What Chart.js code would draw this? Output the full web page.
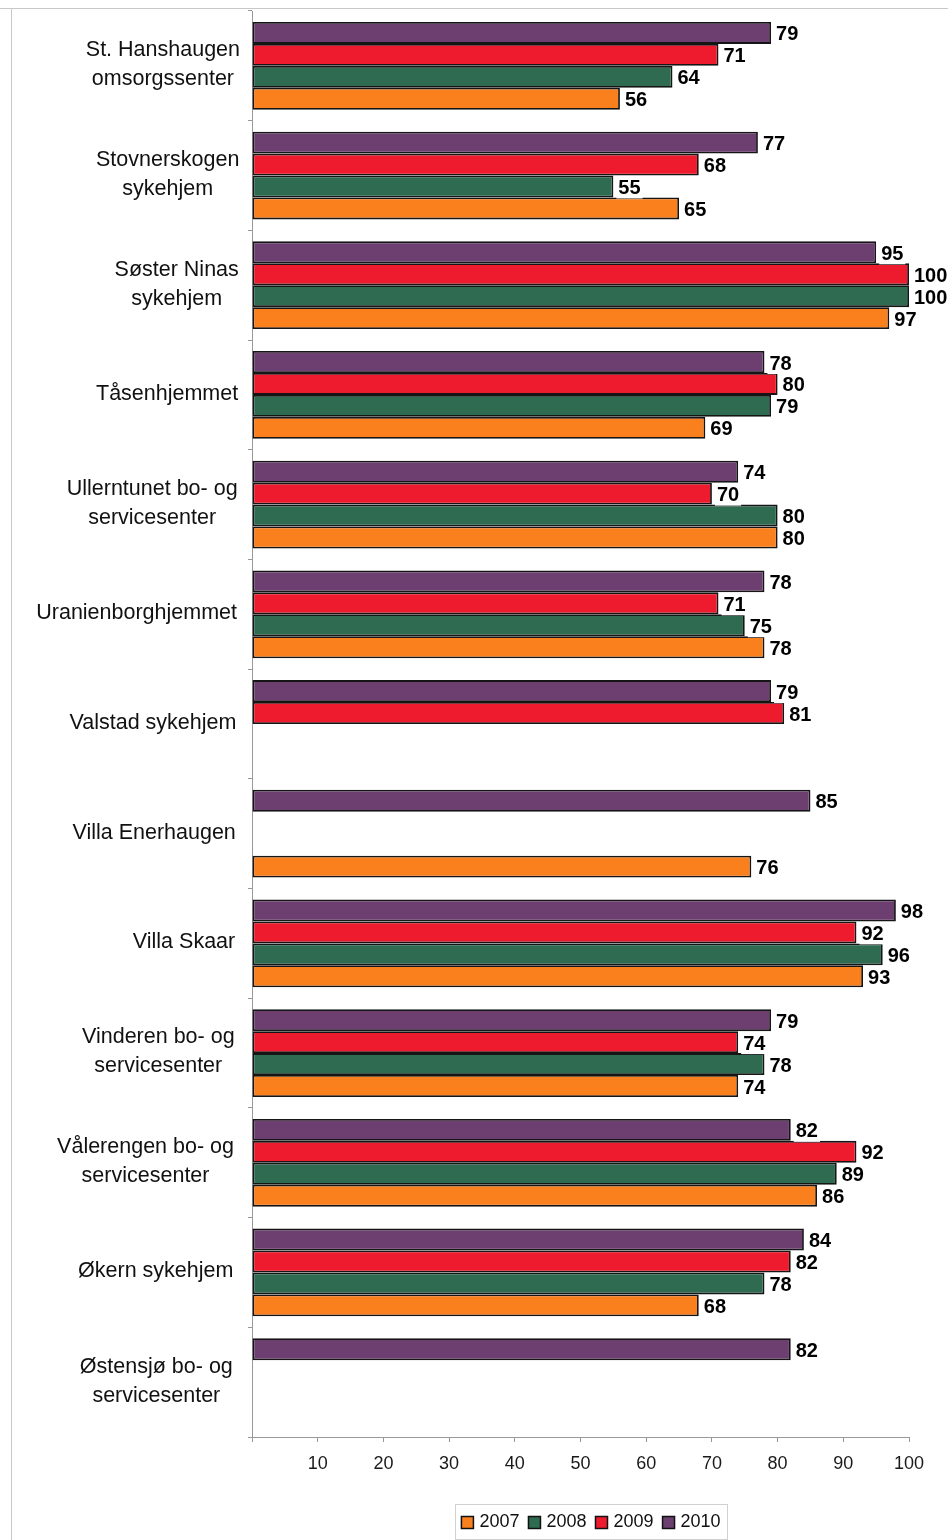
<!DOCTYPE html>
<html>
<head>
<meta charset="utf-8">
<script src="https://cdn.jsdelivr.net/npm/chart.js@4.4.1/dist/chart.umd.min.js"></script>
<style>
  html, body { margin: 0; padding: 0; background: #fff; }
  #wrap { position: relative; width: 948px; height: 1540px; }
</style>
</head>
<body>
<div id="wrap"><canvas id="c" width="948" height="1540"></canvas></div>
<script>
const categories = [
  ["St. Hanshaugen", "omsorgssenter"],
  ["Stovnerskogen", "sykehjem"],
  ["Søster Ninas", "sykehjem"],
  ["Tåsenhjemmet"],
  ["Ullerntunet bo- og", "servicesenter"],
  ["Uranienborghjemmet"],
  ["Valstad sykehjem"],
  ["Villa Enerhaugen"],
  ["Villa Skaar"],
  ["Vinderen bo- og", "servicesenter"],
  ["Vålerengen bo- og", "servicesenter"],
  ["Økern sykehjem"],
  ["Østensjø bo- og", "servicesenter"]
];
const values2010 = [79, 77, 95, 78, 74, 78, 79, 85, 98, 79, 82, 84, 82];
const values2009 = [71, 68, 100, 80, 70, 71, 81, null, 92, 74, 92, 82, null];
const values2008 = [64, 55, 100, 79, 80, 75, null, null, 96, 78, 89, 78, null];
const values2007 = [56, 65, 97, 69, 80, 78, null, 76, 93, 74, 86, 68, null];
const xTicks = [10, 20, 30, 40, 50, 60, 70, 80, 90, 100];
const legendOrder = ["2007", "2008", "2009", "2010"];

const colors = { "2007": "#fa801e", "2008": "#2e6b50", "2009": "#ee1b2e", "2010": "#6c3f70" };
const FONT = '"Liberation Sans", Arial, sans-serif';

const frame = {
  id: 'frame',
  beforeDraw(chart) {
    const ctx = chart.ctx;
    ctx.save();
    ctx.fillStyle = '#fff';
    ctx.fillRect(0, 0, chart.width, chart.height);
    ctx.strokeStyle = '#c8c8c8';
    ctx.lineWidth = 1;
    ctx.beginPath();
    ctx.moveTo(0, 8.5); ctx.lineTo(948, 8.5);
    ctx.moveTo(11.5, 8); ctx.lineTo(11.5, 1540);
    ctx.stroke();
    ctx.restore();
  }
};

const yLabels = {
  id: 'yLabels',
  afterDraw(chart) {
    const ctx = chart.ctx;
    const ys = chart.scales.y;
    ctx.save();
    ctx.font = '21.5px ' + FONT;
    ctx.fillStyle = '#111';
    ctx.textAlign = 'center';
    ctx.textBaseline = 'middle';
    const lh = 29;
    categories.forEach((lines, i) => {
      const right = 240 - i * 0.6;
      const cy = ys.getPixelForValue(i) - 1;
      let maxW = 0;
      lines.forEach(l => { maxW = Math.max(maxW, ctx.measureText(l).width); });
      const cx = right - maxW / 2;
      const y0 = cy - (lines.length - 1) * lh / 2;
      lines.forEach((l, k) => ctx.fillText(l, cx, y0 + k * lh));
    });
    ctx.restore();
  }
};

const valueLabels = {
  id: 'valueLabels',
  afterDatasetsDraw(chart) {
    const ctx = chart.ctx;
    ctx.save();
    ctx.font = 'bold 20px ' + FONT;
    ctx.textAlign = 'left';
    ctx.textBaseline = 'middle';
    chart.data.datasets.forEach((ds, di) => {
      const meta = chart.getDatasetMeta(di);
      meta.data.forEach((el, i) => {
        const v = ds.data[i];
        if (v === null || v === undefined) return;
        const txt = String(v);
        const w = ctx.measureText(txt).width;
        const x = el.x + 5;
        const y = el.y + 2;
        ctx.fillStyle = '#fff';
        ctx.fillRect(x - 2, y - 10, w + 4, 20);
        ctx.fillStyle = '#000';
        ctx.fillText(txt, x, y);
      });
    });
    ctx.restore();
  }
};

const legendBox = {
  id: 'legendBox',
  afterDraw(chart) {
    const ctx = chart.ctx;
    ctx.save();
    ctx.font = '18px ' + FONT;
    ctx.textBaseline = 'middle';
    const box = 12, gapBox = 6, gapItem = 9;
    let total = 0;
    const widths = legendOrder.map(l => ctx.measureText(l).width);
    widths.forEach(w => total += box + gapBox + w);
    total += gapItem * (legendOrder.length - 1);
    const bx = 455, by = 1504, bw = 272, bh = 35;
    ctx.strokeStyle = '#d0d0d0';
    ctx.lineWidth = 1;
    ctx.strokeRect(bx + 0.5, by + 0.5, bw, bh);
    let x = bx + (bw - total) / 2;
    const cy = by + bh / 2 + 1;
    legendOrder.forEach((l, i) => {
      ctx.fillStyle = colors[l];
      ctx.fillRect(x, cy - box / 2, box, box);
      ctx.strokeStyle = '#111';
      ctx.lineWidth = 1.5;
      ctx.strokeRect(x, cy - box / 2, box, box);
      ctx.fillStyle = '#111';
      ctx.fillText(l, x + box + gapBox, cy);
      x += box + gapBox + widths[i] + gapItem;
    });
    ctx.restore();
  }
};

function ds(label, data) {
  return {
    label, data,
    backgroundColor: colors[label],
    borderColor: '#151515',
    borderWidth: 1.8,
    borderSkipped: false,
    categoryPercentage: 0.8,
    barPercentage: 1.0
  };
}

new Chart(document.getElementById('c'), {
  type: 'bar',
  data: {
    labels: categories.map(c => c.join(' ')),
    datasets: [ds("2010", values2010), ds("2009", values2009), ds("2008", values2008), ds("2007", values2007)]
  },
  options: {
    indexAxis: 'y',
    responsive: false,
    animation: false,
    layout: { padding: { top: 11, left: 0, right: 39, bottom: 58 } },
    plugins: { legend: { display: false }, tooltip: { enabled: false } },
    scales: {
      x: {
        min: 0, max: 100,
        afterBuildTicks(scale) { scale.ticks = [0].concat(xTicks).map(v => ({ value: v })); },
        afterFit(scale) { scale.height = 45; },
        ticks: {
          callback: (v) => v === 0 ? '' : String(v),
          font: { family: FONT, size: 18 },
          color: '#1a1a1a',
          padding: 11,
          maxRotation: 0
        },
        grid: { drawOnChartArea: false, drawTicks: true, tickLength: 5, color: '#999' },
        border: { display: true, color: '#999', width: 1 }
      },
      y: {
        afterFit(scale) { scale.width = 252; },
        ticks: { display: false },
        grid: { drawOnChartArea: false, drawTicks: true, tickLength: 4, color: '#999', offset: true },
        border: { display: true, color: '#999', width: 1 }
      }
    }
  },
  plugins: [frame, valueLabels, yLabels, legendBox]
});
</script>
</body>
</html>
